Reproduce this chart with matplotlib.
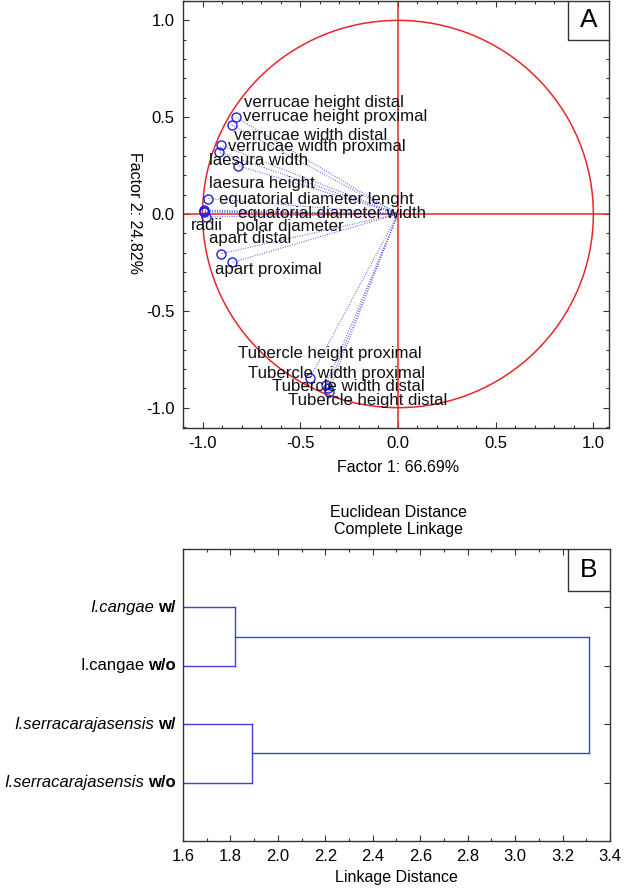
import numpy as np
import matplotlib
matplotlib.use("Agg")
import matplotlib.pyplot as plt
from matplotlib.patches import Circle, Rectangle
from matplotlib.ticker import MultipleLocator, FixedLocator, FormatStrFormatter
from matplotlib.transforms import offset_copy

plt.rcParams['font.family'] = ['Liberation Sans', 'DejaVu Sans']

# ---------------- Panel A data (PCA loadings) ----------------
variables = ["verrucae height distal", "verrucae height proximal",
             "verrucae width distal", "verrucae width proximal",
             "laesura width", "laesura height",
             "equatorial diameter lenght", "equatorial diameter width",
             "radii", "polar diameter", "apart distal", "apart proximal",
             "Tubercle height proximal", "Tubercle width proximal",
             "Tubercle width distal", "Tubercle height distal"]
factor1 = [-0.83, -0.85, -0.905, -0.915, -0.82, -0.97, -0.99, -0.99,
           -0.98, -0.99, -0.905, -0.85, -0.37, -0.45, -0.36, -0.355]
factor2 = [0.50, 0.46, 0.355, 0.32, 0.25, 0.08, 0.02, 0.015,
           -0.015, 0.01, -0.205, -0.25, -0.885, -0.845, -0.90, -0.92]
label_x = [-0.788, -0.793, -0.839, -0.870, -0.967, -0.967, -0.916, -0.818,
           -1.059, -0.829, -0.967, -0.936, -0.818, -0.767, -0.645, -0.563]
label_y = [0.577, 0.505, 0.407, 0.351, 0.278, 0.160, 0.077, 0.005,
           -0.057, -0.067, -0.129, -0.289, -0.722, -0.825, -0.892, -0.962]

# ---------------- Panel B data (dendrogram) ----------------
leaf_species = ["I.cangae", "I.cangae", "I.serracarajasensis", "I.serracarajasensis"]
leaf_species_style = ["italic", "normal", "italic", "italic"]
leaf_suffix = ["w/", "w/o", "w/", "w/o"]
leaf_pos = [4, 3, 2, 1]
merge_cangae = 1.82
merge_serra = 1.89
merge_all = 3.31

fig = plt.figure(figsize=(6.25, 8.92), dpi=100)
axis_col = '#333333'
blue = '#2020e0'
red = '#e8262a'

def style_axes(ax):
    for s in ax.spines.values():
        s.set_color(axis_col)
        s.set_linewidth(1.0)
    ax.tick_params(which='both', direction='in', top=True, right=True,
                   color=axis_col, width=0.8)
    ax.tick_params(which='major', length=4, labelsize=12, pad=6)
    ax.tick_params(which='minor', length=2.5)

# ---------------- Panel A ----------------
axA = fig.add_axes([183/625, 1-428/892, 426/625, 427/892])
axA.set_xlim(-1.1, 1.08)
axA.set_ylim(-1.105, 1.1)
axA.add_patch(Circle((0, 0), 1.0, fill=False, color=red, lw=1.1))
axA.axhline(0, color=red, lw=1.1)
axA.axvline(0, color=red, lw=1.1)
for x, y in zip(factor1, factor2):
    axA.plot([0, x], [0, y], ls=(0, (1, 1.5)), color='#5050e8', lw=0.7)
axA.plot(factor1, factor2, 'o', mfc='none', mec=blue, ms=6.5, mew=1.0)
for name, lx, ly in zip(variables, label_x, label_y):
    axA.text(lx, ly, name, fontsize=12.1, ha='left', va='center', color='#111111')
axA.xaxis.set_major_locator(FixedLocator([-1.0, -0.5, 0.0, 0.5, 1.0]))
axA.yaxis.set_major_locator(FixedLocator([-1.0, -0.5, 0.0, 0.5, 1.0]))
axA.xaxis.set_minor_locator(MultipleLocator(0.1))
axA.yaxis.set_minor_locator(MultipleLocator(0.1))
axA.xaxis.set_major_formatter(FormatStrFormatter('%.1f'))
axA.yaxis.set_major_formatter(FormatStrFormatter('%.1f'))
style_axes(axA)
axA.add_patch(Rectangle((0.904, 0.909), 0.096, 0.091, transform=axA.transAxes,
                        fill=True, facecolor='white', edgecolor=axis_col, lw=1.0, zorder=5))
axA.text(0.952, 0.955, "A", transform=axA.transAxes, fontsize=19,
         ha='center', va='center', zorder=6)
fig.text(398/625, 1-467/892, "Factor 1: 66.69%", fontsize=11.5, ha='center', va='center')
fig.text(135/625, 1-213/892, "Factor 2: 24.82%", fontsize=11.5, ha='center', va='center',
         rotation=270)

# ---------------- Panel B ----------------
axB = fig.add_axes([183/625, 1-841/892, 427/625, 292/892])
axB.set_xlim(1.6, 3.4)
axB.set_ylim(0, 5)
dcol = '#4040d8'
lw = 1.0
y_c1 = (leaf_pos[0] + leaf_pos[1]) / 2
y_c2 = (leaf_pos[2] + leaf_pos[3]) / 2
for yp, m in zip(leaf_pos, [merge_cangae, merge_cangae, merge_serra, merge_serra]):
    axB.plot([0, m], [yp, yp], color=dcol, lw=lw)
axB.plot([merge_cangae, merge_cangae], [leaf_pos[1], leaf_pos[0]], color=dcol, lw=lw)
axB.plot([merge_serra, merge_serra], [leaf_pos[3], leaf_pos[2]], color=dcol, lw=lw)
axB.plot([merge_cangae, merge_all], [y_c1, y_c1], color=dcol, lw=lw)
axB.plot([merge_serra, merge_all], [y_c2, y_c2], color=dcol, lw=lw)
axB.plot([merge_all, merge_all], [y_c2, y_c1], color=dcol, lw=lw)
axB.set_yticks(leaf_pos)
axB.set_yticklabels([])
axB.xaxis.set_major_locator(MultipleLocator(0.2))
axB.xaxis.set_minor_locator(MultipleLocator(0.1))
axB.xaxis.set_major_formatter(FormatStrFormatter('%.1f'))
style_axes(axB)
axB.add_patch(Rectangle((0.902, 0.856), 0.098, 0.144, transform=axB.transAxes,
                        fill=True, facecolor='white', edgecolor=axis_col, lw=1.0, zorder=5))
axB.text(0.951, 0.928, "B", transform=axB.transAxes, fontsize=19,
         ha='center', va='center', zorder=6)
axB.set_xlabel("Linkage Distance", fontsize=11.5, labelpad=4)
fig.text(398/625, 1-521/892, "Euclidean Distance\nComplete Linkage", fontsize=11.5,
         ha='center', va='center', linespacing=1.15)

# leaf labels: species part + bold suffix, right aligned left of the axis
renderer = fig.canvas.get_renderer()
trans = axB.get_yaxis_transform()
for sp, st, sf, yp in zip(leaf_species, leaf_species_style, leaf_suffix, leaf_pos):
    t1 = axB.text(0, yp, sf, fontsize=12, fontweight='bold', ha='right', va='center',
                  transform=offset_copy(trans, fig=fig, x=-7, y=0, units='dots'))
    w = t1.get_window_extent(renderer).width
    axB.text(0, yp, sp, fontsize=12, style=st, ha='right', va='center',
             transform=offset_copy(trans, fig=fig, x=-7 - w - 4, y=0, units='dots'))

fig.savefig("out.png", dpi=100)
